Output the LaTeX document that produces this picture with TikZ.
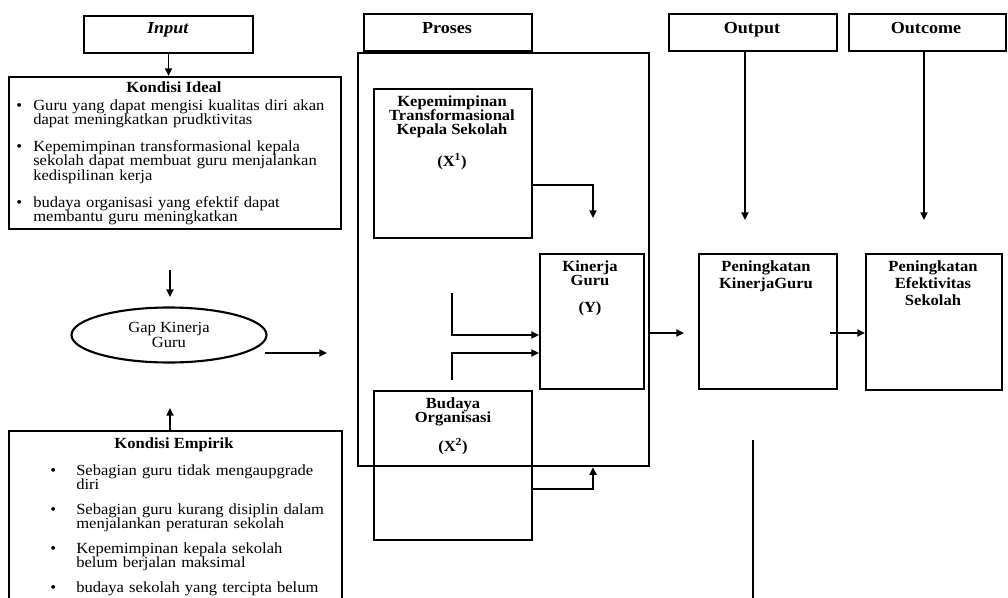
\documentclass[tikz,border=0pt]{standalone}
\usepackage{fontspec}
\setmainfont{Liberation Serif}[FakeStretch=1.07]
\usetikzlibrary{arrows.meta,shapes.geometric}
\newcommand{\idealitem}[1]{\hangindent=0.425cm\hangafter=1\noindent\makebox[0.425cm][l]{\textbullet}#1\par}
\newcommand{\empitem}[1]{\hangindent=0.65cm\hangafter=1\noindent\makebox[0.65cm][l]{\textbullet}#1\par}
\begin{document}
\begin{tikzpicture}[x=0.025cm,y=-0.025cm,
  box/.style={draw,line width=1.5pt,anchor=north west,inner sep=0pt},
  sz/.style 2 args={minimum width=#1*0.025cm,minimum height=#2*0.025cm},
  arr/.style={line width=1.3pt,-{Triangle[length=5.5pt,width=5pt]}},
  ln/.style={line width=1.3pt},
  hdr/.style={font=\fontsize{12}{12}\selectfont\bfseries,anchor=base,inner sep=0pt},
  btxt/.style={font=\fontsize{11}{10.3}\selectfont\bfseries,align=center,anchor=north,inner sep=0pt},
  ptxt/.style={font=\fontsize{11}{12.2}\selectfont\bfseries,align=center,anchor=north,inner sep=0pt},
  list/.style={font=\fontsize{11}{10.4}\selectfont,align=left,anchor=north west,inner sep=0pt}]
\useasboundingbox (0,0) rectangle (1008,598);

% header boxes
\node[box,sz={169}{37}] (input) at (83,15) {};
\node[hdr] (inputt) at (168,33) {\textit{Input}};
\node[box,sz={168}{37}] (proses) at (363,13) {};
\node[hdr] (prosest) at (447,33) {Proses};
\node[box,sz={168}{37}] (output) at (668,13) {};
\node[hdr] (outputt) at (752,33) {Output};
\node[box,sz={157}{37}] (outcome) at (848,13) {};
\node[hdr] (outcomet) at (926,33) {Outcome};

% Kondisi Ideal
\begin{scope}
\clip (8,76) rectangle (340,228);
\node[list,text width=7.975cm] (idealt) at (16,99) {\setlength{\parskip}{8.6pt}%
\idealitem{Guru yang dapat mengisi kualitas diri akan\newline dapat meningkatkan prudktivitas}%
\idealitem{Kepemimpinan transformasional kepala\newline sekolah dapat membuat guru menjalankan\newline kedispilinan kerja}%
\idealitem{budaya organisasi yang efektif dapat\newline membantu guru meningkatkan}};
\end{scope}
\node[box,sz={332}{152}] (ideal) at (8,76) {};
\node[hdr,font=\fontsize{11}{11}\selectfont\bfseries] (idealh) at (174,92) {Kondisi Ideal};

% Kondisi Empirik
\node[list,text width=7.4cm] (empt) at (50,464) {\setlength{\parskip}{7pt}%
\empitem{Sebagian guru tidak mengaupgrade\newline diri}%
\empitem{Sebagian guru kurang disiplin dalam\newline menjalankan peraturan sekolah}%
\empitem{Kepemimpinan kepala sekolah\newline belum berjalan maksimal}%
\empitem{budaya sekolah yang tercipta belum}};
\node[box,sz={333}{200}] (emp) at (8,430) {};
\node[hdr,font=\fontsize{11}{11}\selectfont\bfseries] (emph) at (174,448) {Kondisi Empirik};

% Gap ellipse
\node[draw,ellipse,line width=1.5pt,minimum width=195*0.025cm,minimum height=55*0.025cm,inner sep=0pt,
  align=center,font=\fontsize{11}{10.3}\selectfont] (gap) at (169,335) {Gap Kinerja\\Guru};

% Proses container and inner boxes
\node[box,sz={291}{413}] (cont) at (357,52) {};
\node[box,sz={158}{149}] (x1) at (373,88) {};
\node[btxt] (x1t) at (452,95) {Kepemimpinan\\Transformasional\\Kepala Sekolah\\[10pt](X\textsuperscript{1})};
\node[box,sz={104}{135}] (ky) at (539,253) {};
\node[btxt] (kyt) at (590,260) {Kinerja\\Guru\\[9pt](Y)};
\node[box,sz={158}{149}] (bo) at (373,390) {};
\node[btxt] (bot) at (453,397) {Budaya\\Organisasi\\[8pt](X\textsuperscript{2})};

% Output / Outcome boxes
\node[box,sz={138}{135}] (pk) at (698,253) {};
\node[ptxt] (pkt) at (766,260) {Peningkatan\\KinerjaGuru};
\node[box,sz={136}{136}] (pe) at (865,253) {};
\node[ptxt] (pet) at (933,260) {Peningkatan\\Efektivitas\\Sekolah};

% connectors
\draw[ln] (proses.south) -- (proses.south |- cont.north);
\draw[arr] (input.south) -- (input.south |- ideal.north);
\coordinate (g1) at (170,270); \coordinate (g2) at (170,297);
\draw[arr] (g1) -- (g2);
\coordinate (e1) at (170,408);
\draw[arr] (emp.north -| e1) -- (e1);
\coordinate (h1) at (265,353); \coordinate (h2) at (327,353);
\draw[arr] (h1) -- (h2);
\coordinate (kc) at (593,185); \coordinate (k1) at (593,218);
\draw[arr] (x1.east |- kc) -- (kc) -- (k1);
\coordinate (m1) at (452,293); \coordinate (m1b) at (452,335);
\draw[arr] (m1) -- (m1b) -- (ky.west |- m1b);
\coordinate (m2) at (452,380); \coordinate (m2b) at (452,353);
\draw[arr] (m2) -- (m2b) -- (ky.west |- m2b);
\coordinate (b1) at (593,489);
\draw[arr] (bo.east |- b1) -- (b1) -- (b1 |- cont.south);
\coordinate (c1) at (684,333);
\draw[arr] (cont.east |- c1) -- (c1);
\coordinate (o1) at (745,220);
\draw[arr] (output.south -| o1) -- (o1);
\coordinate (o2) at (924,220);
\draw[arr] (outcome.south -| o2) -- (o2);
\coordinate (p1) at (830,333);
\draw[arr] (p1) -- (pe.west |- p1);
\coordinate (v1) at (753,440); \coordinate (v2) at (753,598);
\draw[ln] (v1) -- (v2);
\end{tikzpicture}
\end{document}
